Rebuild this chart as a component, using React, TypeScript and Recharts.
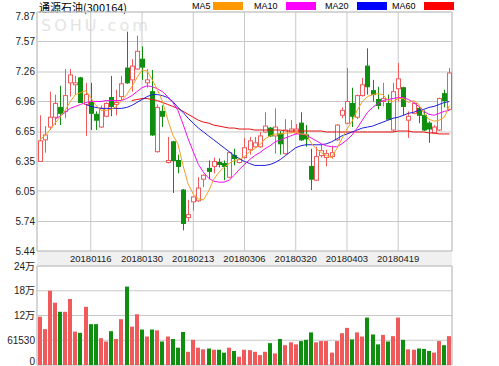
import React from 'react';
import { ComposedChart, Bar, Line, XAxis, YAxis, CartesianGrid, ReferenceArea } from 'recharts';

// trading days shown in the chart
const dates = [
  '20180102', '20180103', '20180104', '20180105', '20180108', '20180109', '20180110', '20180111', '20180112', '20180115',
  '20180116', '20180117', '20180118', '20180119', '20180122', '20180123', '20180124', '20180125', '20180126', '20180129',
  '20180130', '20180131', '20180201', '20180202', '20180205', '20180206', '20180207', '20180208', '20180209', '20180212',
  '20180213', '20180214', '20180222', '20180223', '20180226', '20180227', '20180228', '20180301', '20180302', '20180305',
  '20180306', '20180307', '20180308', '20180309', '20180312', '20180313', '20180314', '20180315', '20180316', '20180319',
  '20180320', '20180321', '20180322', '20180323', '20180326', '20180327', '20180328', '20180329', '20180330', '20180402',
  '20180403', '20180404', '20180409', '20180410', '20180411', '20180412', '20180413', '20180416', '20180417', '20180418',
  '20180419', '20180420', '20180423', '20180424', '20180425', '20180426', '20180427', '20180502', '20180503', '20180504',
  '20180507',
];

const openPrices = [
  6.35, 6.57, 6.70, 6.80, 6.90, 6.86, 7.15, 7.13, 7.20, 6.93,
  6.95, 6.83, 6.70, 6.81, 7.00, 6.93, 7.01, 7.30, 7.18, 7.29,
  7.39, 7.15, 7.06, 6.45, 6.86, 6.34, 6.55, 6.36, 6.06, 5.78,
  5.94, 5.95, 6.17, 6.28, 6.30, 6.34, 6.33, 6.19, 6.41, 6.34,
  6.39, 6.47, 6.50, 6.50, 6.65, 6.69, 6.61, 6.63, 6.43, 6.65,
  6.64, 6.74, 6.62, 6.30, 6.16, 6.41, 6.39, 6.40, 6.57, 6.82,
  6.74, 6.94, 6.80, 7.02, 7.32, 7.07, 6.98, 6.96, 6.94, 6.67,
  7.09, 7.10, 6.77, 6.84, 6.89, 6.82, 6.74, 6.64, 6.67, 7.04,
  6.88,
];

const highPrices = [
  6.82, 6.71, 7.06, 7.03, 7.12, 7.29, 7.29, 7.22, 7.21, 7.15,
  7.15, 6.86, 6.92, 6.95, 7.22, 7.08, 7.22, 7.67, 7.39, 7.63,
  7.52, 7.29, 7.28, 6.93, 6.92, 6.60, 6.56, 6.42, 6.07, 5.96,
  6.00, 6.19, 6.22, 6.36, 6.39, 6.38, 6.36, 6.45, 6.48, 6.38,
  6.59, 6.60, 6.60, 6.65, 6.85, 6.70, 6.89, 6.66, 6.78, 6.77,
  6.73, 6.85, 6.72, 6.48, 6.50, 6.52, 6.47, 6.51, 6.73, 6.90,
  7.30, 7.10, 7.03, 7.20, 7.50, 7.18, 7.11, 7.15, 7.03, 7.15,
  7.35, 7.11, 6.86, 6.95, 6.91, 6.87, 6.76, 6.72, 7.00, 7.08,
  7.30,
];

const lowPrices = [
  6.35, 6.44, 6.67, 6.72, 6.72, 6.79, 7.01, 7.03, 6.95, 6.61,
  6.67, 6.67, 6.69, 6.80, 6.81, 6.82, 6.97, 7.14, 7.06, 7.28,
  7.18, 7.10, 6.61, 6.44, 6.70, 6.33, 6.03, 6.23, 5.65, 5.74,
  5.85, 5.94, 6.09, 6.17, 6.23, 6.29, 6.16, 6.18, 6.31, 6.33,
  6.38, 6.42, 6.49, 6.49, 6.64, 6.60, 6.43, 6.42, 6.42, 6.64,
  6.63, 6.56, 6.50, 6.06, 6.15, 6.39, 6.30, 6.38, 6.56, 6.79,
  6.73, 6.70, 6.78, 7.01, 7.03, 6.96, 6.88, 6.91, 6.78, 6.65,
  6.96, 6.82, 6.59, 6.83, 6.74, 6.66, 6.54, 6.63, 6.66, 6.90,
  6.87,
];

const closePrices = [
  6.56, 6.62, 6.80, 6.94, 6.84, 7.02, 7.23, 7.15, 6.95, 7.03,
  6.84, 6.77, 6.89, 6.94, 6.91, 6.95, 7.14, 7.15, 7.32, 7.47,
  7.31, 7.18, 6.62, 6.90, 6.81, 6.36, 6.36, 6.30, 5.72, 5.81,
  5.99, 6.08, 6.21, 6.25, 6.35, 6.32, 6.30, 6.44, 6.38, 6.37,
  6.49, 6.56, 6.54, 6.61, 6.71, 6.61, 6.70, 6.53, 6.67, 6.68,
  6.68, 6.57, 6.58, 6.17, 6.40, 6.46, 6.43, 6.44, 6.72, 6.87,
  6.96, 6.81, 7.02, 7.13, 7.11, 7.03, 6.92, 6.99, 6.78, 7.06,
  7.19, 6.91, 6.81, 6.94, 6.82, 6.67, 6.68, 6.70, 6.99, 6.97,
  7.25,
];

const volumes = [
  117000, 87000, 180000, 151000, 129000, 129000, 160000, 81000, 78000, 141000,
  99000, 99000, 65000, 57000, 82000, 63000, 111000, 190000, 93000, 123000,
  86000, 69000, 86000, 84000, 57000, 69000, 63000, 42000, 80000, 32000,
  61000, 42000, 38000, 40000, 37000, 37000, 30000, 42000, 34000, 20000,
  37000, 36000, 32000, 24000, 32000, 53000, 28000, 63000, 48000, 55000,
  50000, 58000, 61000, 79000, 55000, 58000, 58000, 30000, 58000, 77000,
  90000, 62000, 79000, 69000, 115000, 74000, 50000, 73000, 57000, 70000,
  115000, 61000, 38000, 37000, 40000, 39000, 34000, 30000, 58000, 48000,
  70000,
];

const ma5 = [
  6.57, 6.61, 6.67, 6.74, 6.80, 6.87, 6.96, 7.03, 7.05, 7.07,
  7.00, 6.92, 6.87, 6.87, 6.88, 6.91, 6.97, 7.03, 7.11, 7.20,
  7.28, 7.27, 7.18, 7.08, 6.96, 6.78, 6.62, 6.53, 6.31, 6.12,
  6.02, 5.97, 5.96, 6.05, 6.17, 6.24, 6.29, 6.33, 6.36, 6.37,
  6.40, 6.45, 6.48, 6.52, 6.58, 6.61, 6.63, 6.63, 6.64, 6.64,
  6.65, 6.63, 6.63, 6.54, 6.48, 6.44, 6.41, 6.39, 6.48, 6.58,
  6.68, 6.76, 6.87, 6.96, 7.01, 7.03, 7.04, 7.03, 6.97, 6.96,
  6.99, 6.99, 6.95, 6.97, 6.93, 6.84, 6.78, 6.76, 6.77, 6.80,
  6.92,
];

const ma10 = [
  null, null, null, 6.78, 6.81, 6.85, 6.89, 6.91, 6.93, 6.95,
  6.96, 6.96, 6.96, 6.97, 6.97, 6.97, 6.97, 6.99, 7.02, 7.06,
  7.10, 7.12, 7.11, 7.09, 7.06, 7.01, 6.95, 6.87, 6.73, 6.58,
  6.45, 6.32, 6.24, 6.18, 6.15, 6.14, 6.14, 6.16, 6.21, 6.27,
  6.32, 6.37, 6.41, 6.44, 6.48, 6.51, 6.55, 6.57, 6.59, 6.61,
  6.63, 6.63, 6.62, 6.59, 6.56, 6.53, 6.51, 6.50, 6.50, 6.53,
  6.57, 6.62, 6.69, 6.77, 6.85, 6.90, 6.94, 6.97, 6.98, 6.99,
  7.00, 7.00, 6.98, 6.95, 6.91, 6.86, 6.83, 6.82, 6.84, 6.86,
  6.87,
];

const ma20 = [
  null, null, null, null, null, null, null, null, null, 6.93,
  6.91, 6.90, 6.89, 6.89, 6.89, 6.89, 6.89, 6.90, 6.92, 6.95,
  6.98, 7.01, 7.03, 7.03, 7.02, 7.00, 6.96, 6.90, 6.85, 6.79,
  6.74, 6.69, 6.65, 6.61, 6.57, 6.53, 6.49, 6.45, 6.41, 6.38,
  6.35, 6.33, 6.31, 6.31, 6.31, 6.32, 6.34, 6.37, 6.41, 6.45,
  6.49, 6.51, 6.52, 6.52, 6.52, 6.52, 6.53, 6.55, 6.58, 6.61,
  6.63, 6.65, 6.67, 6.69, 6.70, 6.71, 6.73, 6.75, 6.77, 6.79,
  6.80, 6.82, 6.84, 6.85, 6.87, 6.88, 6.90, 6.91, 6.93, 6.95,
  6.96,
];

const ma60 = [
  null, null, null, null, null, null, null, null, null, null,
  null, null, null, null, null, null, null, null, 6.97, 6.98,
  6.99, 6.99, 6.98, 6.97, 6.95, 6.93, 6.91, 6.89, 6.86, 6.83,
  6.80, 6.77, 6.75, 6.74, 6.72, 6.71, 6.70, 6.69, 6.69, 6.68,
  6.68, 6.68, 6.67, 6.67, 6.67, 6.67, 6.67, 6.67, 6.66, 6.66,
  6.66, 6.66, 6.66, 6.66, 6.66, 6.66, 6.65, 6.65, 6.65, 6.65,
  6.65, 6.65, 6.65, 6.65, 6.65, 6.65, 6.65, 6.65, 6.65, 6.65,
  6.66, 6.66, 6.66, 6.65, 6.65, 6.65, 6.64, 6.64, 6.63, 6.63,
  6.63,
];

const dateTicks = ['20180116', '20180130', '20180213', '20180306', '20180320', '20180403', '20180419'];
const priceTicks = [5.44, 5.74, 6.05, 6.35, 6.65, 6.96, 7.26, 7.57, 7.87];
const volumeTicks = [0, 60000, 120000, 180000, 240000];
const volumeTickLabels = ['0', '61530', '12万', '18万', '24万'];

const legendItems = [
  { name: 'MA5', color: '#FF9900' },
  { name: 'MA10', color: '#FF00FF' },
  { name: 'MA20', color: '#0000FF' },
  { name: 'MA60', color: '#FF0000' },
];

const UP = '#F05A5A';
const DOWN = '#108E10';
const GRID = '#C8C8C8';
const FONT = '"Liberation Sans", "Noto Sans CJK SC", sans-serif';

const data = dates.map((date, i) => ({
  date,
  open: openPrices[i],
  high: highPrices[i],
  low: lowPrices[i],
  close: closePrices[i],
  volume: volumes[i],
  ma5: ma5[i],
  ma10: ma10[i],
  ma20: ma20[i],
  ma60: ma60[i],
}));

const Candle = (props: any) => {
  const { x, y, width, height, payload } = props;
  const { open, close, high, low } = payload;
  const up = close >= open;
  const color = up ? UP : DOWN;
  const ratio = height / (high - low);
  const toY = (v: number) => y + (high - v) * ratio;
  const top = toY(Math.max(open, close));
  const bottom = toY(Math.min(open, close));
  const c = Math.floor(x + width / 2) + 0.5;
  return (
    <g>
      <line x1={c} x2={c} y1={y} y2={top} stroke={color} />
      <line x1={c} x2={c} y1={bottom} y2={y + height} stroke={color} />
      <rect x={c - 2} y={top} width={4} height={Math.max(bottom - top, 1)} fill={up ? '#fff' : color} stroke={color} />
    </g>
  );
};

const VolumeBar = (props: any) => {
  const { x, y, width, height, payload } = props;
  const color = payload.close >= payload.open ? UP : DOWN;
  const c = Math.floor(x + width / 2);
  return <rect x={c - 2} y={y} width={4} height={height} fill={color} />;
};

const PriceTick = ({ x, y, payload }: any) => (
  <text x={x} y={Math.max(y + 3.5, 19.5)} textAnchor="end" fontSize={10} fill="#222" fontFamily={FONT}>
    {payload.value.toFixed(2)}
  </text>
);

const VolumeTick = ({ x, y, payload }: any) => (
  <text x={x} y={Math.min(y + 3.5, 108.5)} textAnchor="end" fontSize={10} fill="#222" fontFamily={FONT}>
    {volumeTickLabels[volumeTicks.indexOf(payload.value)]}
  </text>
);

const DateTick = ({ x, y, payload }: any) => (
  <text x={x} y={y + 10.5} textAnchor="middle" fontSize={9.5} fill="#222" fontFamily={FONT}>
    {payload.value}
  </text>
);

export default function App() {
  return (
    <div style={{ position: 'absolute', left: 0, top: 0, width: 499, height: 366, background: '#fff', overflow: 'hidden' }}>
      <div style={{ position: 'absolute', left: 37, top: 251, width: 415, height: 15, background: '#F0F0F0' }} />
      <div style={{ position: 'absolute', left: 41, top: 18, fontSize: 16, lineHeight: '16px', color: '#E4E4E4', letterSpacing: 3, fontFamily: '"DejaVu Sans", sans-serif' }}>
        SOHU.com
      </div>
      <div style={{ position: 'absolute', left: 39, top: 1, fontSize: 11, lineHeight: '13px', color: '#000', fontFamily: '"Noto Sans CJK SC", sans-serif', whiteSpace: 'nowrap' }}>
        通源石油(300164)
      </div>
      {legendItems.map((item, i) => (
        <div key={item.name} style={{ position: 'absolute', left: [192, 254, 325, 392][i], top: 0, height: 12, display: 'flex', alignItems: 'center', fontSize: 9, fontFamily: FONT, color: '#000' }}>
          <span style={{ width: i === 0 ? 21 : 32 }}>{item.name}</span>
          <span style={{ display: 'inline-block', width: 30, height: 8, background: item.color }} />
        </div>
      ))}

      <div style={{ position: 'absolute', left: 0, top: 0 }}>
        <ComposedChart width={499} height={266} data={data} margin={{ top: 12, right: 47, bottom: 0, left: 0 }} barSize={4}>
          <CartesianGrid stroke={GRID} />
          <ReferenceArea y1={5.44} y2={7.87} fill="none" stroke={GRID} />
          <XAxis dataKey="date" height={15} ticks={dateTicks} interval={0} tickLine={false} axisLine={false} tickSize={0} tickMargin={0} tick={<DateTick />} />
          <YAxis width={37} domain={[5.44, 7.87]} ticks={priceTicks} interval={0} allowDataOverflow tickLine={false} axisLine={false} tickSize={0} tickMargin={2} tick={<PriceTick />} />
          <Bar dataKey={(d: any) => [d.low, d.high]} shape={(p: any) => <Candle {...p} />} isAnimationActive={false} />
          <Line dataKey="ma60" stroke="#E81010" strokeWidth={1} dot={false} activeDot={false} isAnimationActive={false} />
          <Line dataKey="ma20" stroke="#1E1EDC" strokeWidth={1} dot={false} activeDot={false} isAnimationActive={false} />
          <Line dataKey="ma10" stroke="#F010F0" strokeWidth={1} dot={false} activeDot={false} isAnimationActive={false} />
          <Line dataKey="ma5" stroke="#F5A020" strokeWidth={1} dot={false} activeDot={false} isAnimationActive={false} />
        </ComposedChart>
      </div>

      <div style={{ position: 'absolute', left: 0, top: 256 }}>
        <ComposedChart width={499} height={110} data={data} margin={{ top: 10, right: 47, bottom: 1, left: 0 }} barSize={4}>
          <CartesianGrid stroke={GRID} />
          <ReferenceArea y1={0} y2={240000} fill="none" stroke={GRID} />
          <XAxis dataKey="date" height={0} ticks={dateTicks} interval={0} tick={false} tickLine={false} axisLine={false} />
          <YAxis width={37} domain={[0, 240000]} ticks={volumeTicks} interval={0} allowDataOverflow tickLine={false} axisLine={false} tickSize={0} tickMargin={2} tick={<VolumeTick />} />
          <Bar dataKey="volume" shape={(p: any) => <VolumeBar {...p} />} isAnimationActive={false} />
        </ComposedChart>
      </div>
    </div>
  );
}
